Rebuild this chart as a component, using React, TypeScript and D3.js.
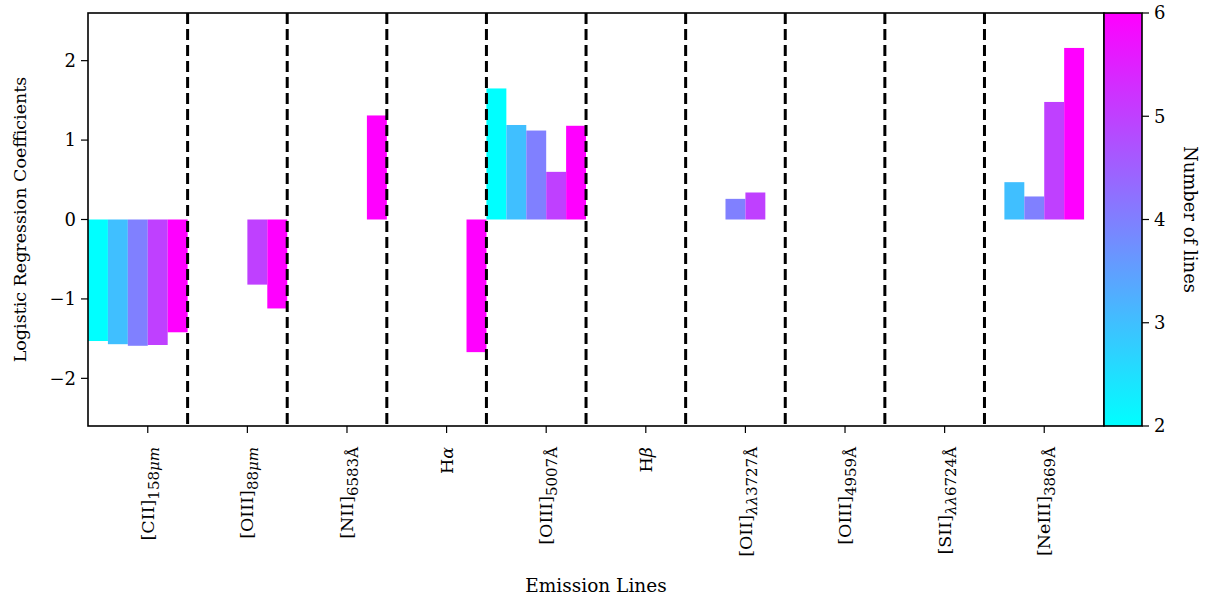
import React from 'react'
import * as d3 from "d3"

// emission lines (x categories)
const lineNames = ["CII158", "OIII88", "NII6583", "Ha", "OIII5007", "Hb", "OII3727", "OIII4959", "SII6724", "NeIII3869"];
// number of lines used in the model (one bar series each)
const nLines = [2, 3, 4, 5, 6];
// logistic regression coefficients per series (0 = no bar)
const coef2 = [-1.53, 0, 0, 0, 1.65, 0, 0, 0, 0, 0];
const coef3 = [-1.57, 0, 0, 0, 1.19, 0, 0, 0, 0, 0.47];
const coef4 = [-1.59, 0, 0, 0, 1.12, 0, 0.26, 0, 0, 0.29];
const coef5 = [-1.58, -0.82, 0, 0, 0.60, 0, 0.34, 0, 0, 1.48];
const coef6 = [-1.42, -1.12, 1.31, -1.67, 1.18, 0, 0, 0, 0, 2.16];
const yTicks = [-2, -1, 0, 1, 2];
const cbTicks = [2, 3, 4, 5, 6];

const series = [coef2, coef3, coef4, coef5, coef6];

const FONT = "'DejaVu Serif', serif";

function TickLabel({ name }: { name: string }) {
    const sub = { baselineShift: "-35%", fontSize: "15px" } as React.CSSProperties;
    switch (name) {
        case "CII158": return <>[CII]<tspan style={sub}>158<tspan fontStyle="italic">μm</tspan></tspan></>;
        case "OIII88": return <>[OIII]<tspan style={sub}>88<tspan fontStyle="italic">μm</tspan></tspan></>;
        case "NII6583": return <>[NII]<tspan style={sub}>6583Å</tspan></>;
        case "Ha": return <>H<tspan fontStyle="italic">α</tspan></>;
        case "OIII5007": return <>[OIII]<tspan style={sub}>5007Å</tspan></>;
        case "Hb": return <>H<tspan fontStyle="italic">β</tspan></>;
        case "OII3727": return <>[OII]<tspan style={sub}><tspan fontStyle="italic">λλ</tspan>3727Å</tspan></>;
        case "OIII4959": return <>[OIII]<tspan style={sub}>4959Å</tspan></>;
        case "SII6724": return <>[SII]<tspan style={sub}><tspan fontStyle="italic">λλ</tspan>6724Å</tspan></>;
        case "NeIII3869": return <>[NeIII]<tspan style={sub}>3869Å</tspan></>;
    }
    return <>{name}</>;
}

export default function App() {
    const width = 1215;
    const height = 598;
    const left = 88, right = 1104, top = 13, bottom = 426;
    const cbLeft = 1104, cbRight = 1142;

    const x = d3.scaleLinear().domain([-0.6, lineNames.length - 0.4]).range([left, right]);
    const y = d3.scaleLinear().domain([-2.6, 2.6]).range([bottom, top]);
    const cb = d3.scaleLinear().domain([2, 6]).range([bottom, top]);
    const color = d3.scaleLinear<string>().domain([2, 6]).range(["#00ffff", "#ff00ff"]).interpolate(d3.interpolateRgb);
    const barW = 0.2;

    return (
        <svg width={width} height={height} style={{ position: "absolute", left: 0, top: 0 }} fontFamily={FONT}>
            <defs>
                <linearGradient id="cool" x1="0" y1="1" x2="0" y2="0">
                    <stop offset="0%" stopColor="#00ffff" />
                    <stop offset="100%" stopColor="#ff00ff" />
                </linearGradient>
            </defs>

            {/* bars */}
            {series.map((vals, k) =>
                vals.map((v, i) => v === 0 ? null : (
                    <rect key={`${k}-${i}`}
                        x={x(i + (k - 3) * barW)}
                        width={x(barW) - x(0)}
                        y={y(Math.max(0, v))}
                        height={Math.abs(y(v) - y(0))}
                        fill={color(nLines[k])} />
                ))
            )}

            {/* group separators */}
            {lineNames.slice(0, -1).map((_, i) => (
                <line key={i} x1={x(i + 0.4)} x2={x(i + 0.4)} y1={top} y2={bottom}
                    stroke="#000" strokeWidth={3} strokeDasharray="11,5" />
            ))}

            {/* axes frame */}
            <rect x={left} y={top} width={right - left} height={bottom - top} fill="none" stroke="#000" strokeWidth={1.6} />

            {/* y ticks */}
            {yTicks.map(t => (
                <g key={t}>
                    <line x1={left - 7} x2={left} y1={y(t)} y2={y(t)} stroke="#000" strokeWidth={1.2} />
                    <text x={left - 12} y={y(t)} dy="0.35em" textAnchor="end" fontSize={18}>
                        {t < 0 ? `−${-t}` : t}
                    </text>
                </g>
            ))}
            <text transform={`translate(26, ${(top + bottom) / 2}) rotate(-90)`} textAnchor="middle" fontSize={17.5}>
                Logistic Regression Coefficients
            </text>

            {/* x ticks */}
            {lineNames.map((name, i) => (
                <g key={name}>
                    <line x1={x(i)} x2={x(i)} y1={bottom} y2={bottom + 7} stroke="#000" strokeWidth={1.2} />
                    <text transform={`translate(${x(i)}, ${bottom + 21}) rotate(-90)`} textAnchor="end" dy="0.35em" fontSize={17.5}>
                        <TickLabel name={name} />
                    </text>
                </g>
            ))}
            <text x={(left + right) / 2} y={592} textAnchor="middle" fontSize={18.5}>Emission Lines</text>

            {/* colorbar */}
            <rect x={cbLeft} y={top} width={cbRight - cbLeft} height={bottom - top} fill="url(#cool)" stroke="#000" strokeWidth={1.6} />
            {cbTicks.map(t => (
                <g key={t}>
                    <line x1={cbRight} x2={cbRight + 7} y1={cb(t)} y2={cb(t)} stroke="#000" strokeWidth={1.2} />
                    <text x={cbRight + 12} y={cb(t)} dy="0.35em" fontSize={18}>{t}</text>
                </g>
            ))}
            <text transform={`translate(1190, ${(top + bottom) / 2}) rotate(90)`} textAnchor="middle" dy="0.35em" fontSize={18}>
                Number of lines
            </text>
        </svg>
    )
}
